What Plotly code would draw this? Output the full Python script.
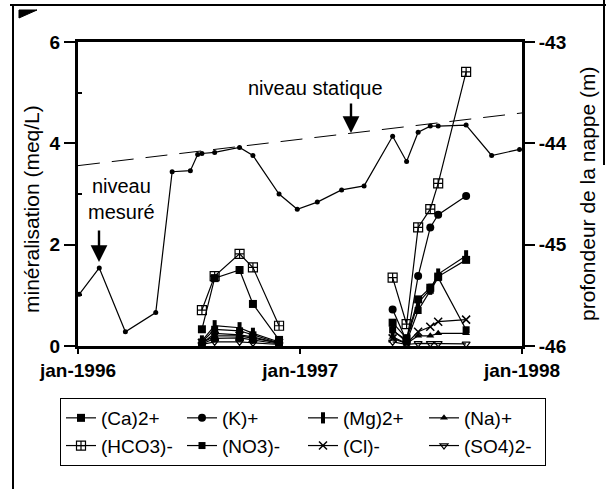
import plotly.graph_objects as go

# ---------------- data ----------------
dates_niveau = ["1996-01-03", "1996-02-05", "1996-03-19", "1996-05-08", "1996-06-04",
                "1996-07-04", "1996-07-16", "1996-07-23", "1996-08-13", "1996-09-23",
                "1996-10-15", "1996-11-27", "1996-12-27", "1997-01-29", "1997-03-10",
                "1997-04-16", "1997-06-02", "1997-06-25", "1997-07-14", "1997-08-03",
                "1997-08-16", "1997-10-01", "1997-11-12", "1997-12-28"]
profondeur = [-45.49, -45.23, -45.86, -45.67, -44.28,
              -44.27, -44.11, -44.10, -44.09, -44.04,
              -44.12, -44.50, -44.65, -44.58, -44.46,
              -44.42, -43.93, -44.18, -43.89, -43.83,
              -43.83, -43.82, -44.12, -44.06]

statique_dates = ["1996-01-01", "1998-01-01"]
statique_prof = [-44.22, -43.70]

dates_chimie = ["1996-07-23", "1996-08-13", "1996-09-23", "1996-10-15", "1996-11-27",
                "1997-03-01",
                "1997-06-02", "1997-06-25", "1997-07-14", "1997-08-03", "1997-08-16", "1997-10-01"]
ca   = [0.33, 1.34, 1.50, 0.83, 0.12, None, 0.46, 0.15, 0.92, 1.15, 1.37, 1.70]
k    = [0.04, 0.15, 0.16, 0.12, 0.04, None, 0.72, 0.10, 1.38, 2.34, 2.59, 2.96]
mg   = [0.10, 0.40, 0.36, 0.25, 0.08, None, 0.30, 0.12, 0.85, 1.12, 1.42, 1.78]
na   = [0.05, 0.25, 0.22, 0.18, 0.05, None, 0.18, 0.05, 0.20, 0.20, 0.25, 0.25]
hco3 = [0.71, 1.38, 1.82, 1.55, 0.40, None, 1.35, 0.43, 2.34, 2.70, 3.21, 5.41]
no3  = [0.08, 0.33, 0.30, 0.22, 0.06, None, 0.32, 0.08, 0.70, 1.10, 1.35, 0.32]
cl   = [0.06, 0.20, 0.20, 0.15, 0.06, None, 0.15, 0.05, 0.28, 0.38, 0.48, 0.52]
so4  = [0.03, 0.08, 0.08, 0.06, 0.03, None, 0.08, 0.03, 0.05, 0.05, 0.05, 0.04]

x_tickvals = ["1996-01-01", "1997-01-01", "1998-01-01"]
x_ticktext = ["jan-1996", "jan-1997", "jan-1998"]
y_tickvals = [0, 2, 4, 6]
y2_tickvals = [-46, -45, -44, -43]
y2_ticktext = ["-46", "-45", "-44", "-43"]

# ---------------- layout helpers ----------------
W, H = 606, 489
L, R, T, B = 78, 522, 42, 346
FONT = "Liberation Sans, Arial, sans-serif"


def px(x):
    return (x - L) / (R - L)


def py(y):
    return (B - y) / (B - T)


fig = go.Figure()

# water level (right axis)
fig.add_trace(go.Scatter(x=statique_dates, y=statique_prof, yaxis="y2", mode="lines",
                         line=dict(color="black", width=1, dash="22px,12px"),
                         showlegend=False, hoverinfo="skip"))
fig.add_trace(go.Scatter(x=dates_niveau, y=profondeur, yaxis="y2", mode="lines+markers",
                         line=dict(color="black", width=1.2),
                         marker=dict(symbol="circle", size=5, color="black"),
                         showlegend=False))

series = [
    ("(Ca)2+", ca, dict(symbol="square", size=8, color="black")),
    ("(K)+", k, dict(symbol="circle", size=8, color="black")),
    ("(Mg)2+", mg, dict(symbol="line-ns", size=8, color="black", line=dict(width=4, color="black"))),
    ("(Na)+", na, dict(symbol="triangle-up", size=7, color="black")),
    ("(HCO3)-", hco3, dict(symbol="square-cross-open", size=9, color="black", line=dict(width=1.2, color="black"))),
    ("(NO3)-", no3, dict(symbol="square", size=7, color="black")),
    ("(Cl)-", cl, dict(symbol="x-thin", size=8, color="black", line=dict(width=1.5, color="black"))),
    ("(SO4)2-", so4, dict(symbol="triangle-down-open", size=7, color="black", line=dict(width=1.2, color="black"))),
]
for name, vals, mk in series:
    fig.add_trace(go.Scatter(x=dates_chimie, y=vals, name=name, mode="lines+markers",
                             connectgaps=False, line=dict(color="black", width=1.2),
                             marker=mk))

axis_common = dict(showline=True, linecolor="black", linewidth=3, showgrid=False,
                   zeroline=False, ticks="outside", tickcolor="black", tickwidth=2)

fig.update_layout(
    width=W, height=H,
    margin=dict(l=L, r=W - R, t=T, b=H - B, autoexpand=False),
    paper_bgcolor="white", plot_bgcolor="white",
    font=dict(family=FONT, color="black", size=19),
    xaxis=dict(type="date", range=["1996-01-01", "1998-01-01"], tickvals=x_tickvals,
               ticktext=x_ticktext, ticklen=5, mirror=True,
               tickfont=dict(size=19, weight="bold"), **axis_common),
    yaxis=dict(range=[0, 6], tickvals=y_tickvals, ticklen=11, mirror=True,
               tickfont=dict(size=19, weight="bold"),
               minor=dict(tickvals=[1, 3, 5], ticks="inside", ticklen=4, tickcolor="black"),
               **axis_common),
    yaxis2=dict(range=[-46, -43], tickvals=y2_tickvals, ticktext=y2_ticktext, ticklen=10,
                overlaying="y", side="right", tickfont=dict(size=19, weight="bold"),
                **axis_common),
    showlegend=True,
    legend=dict(orientation="h", x=px(60), y=py(398), xanchor="left", yanchor="top",
                bordercolor="black", borderwidth=1, bgcolor="white",
                entrywidth=76, entrywidthmode="pixels",
                font=dict(size=19, family=FONT), traceorder="normal",
                itemsizing="trace"),
)

annotations = [
    dict(text="minéralisation (meq/L)", x=px(31), y=py(209), textangle=-90,
         font=dict(size=21)),
    dict(text="profondeur de la nappe (m)", x=px(587), y=py(194), textangle=-90,
         font=dict(size=21)),
    dict(text="niveau statique", x=px(315), y=py(88), font=dict(size=20)),
    dict(text="niveau<br>mesuré", x=px(121), y=py(199), font=dict(size=20)),
    dict(text="", x=px(351), y=py(133), ax=0, ay=-31, showarrow=True,
         arrowhead=2, arrowsize=1.4, arrowwidth=2.4, arrowcolor="black"),
    dict(text="", x=px(99), y=py(262), ax=0, ay=-33, showarrow=True,
         arrowhead=2, arrowsize=1.4, arrowwidth=2.4, arrowcolor="black"),
]
for a in annotations:
    if not a.get("showarrow"):
        a.update(showarrow=False, xanchor="center", yanchor="middle")
    a.update(xref="paper", yref="paper")
    fig.add_annotation(**a)

# scan frame decoration
shapes = [
    dict(type="line", x0=px(10), x1=px(606), y0=py(5), y1=py(5), line=dict(color="black", width=2)),
    dict(type="line", x0=px(13), x1=px(13), y0=py(5), y1=py(489), line=dict(color="black", width=2)),
    dict(type="line", x0=px(604), x1=px(604), y0=py(0), y1=py(165), line=dict(color="black", width=2)),
    dict(type="path", path="M %f,%f L %f,%f L %f,%f Z" % (px(19), py(10), px(37), py(10), px(19), py(18)),
         fillcolor="black", line=dict(color="black", width=1)),
]
for s in shapes:
    s.update(xref="paper", yref="paper")
    fig.add_shape(**s)

fig.write_html("out.html", config={"displayModeBar": False},
               post_script="document.body.style.margin='0';")
